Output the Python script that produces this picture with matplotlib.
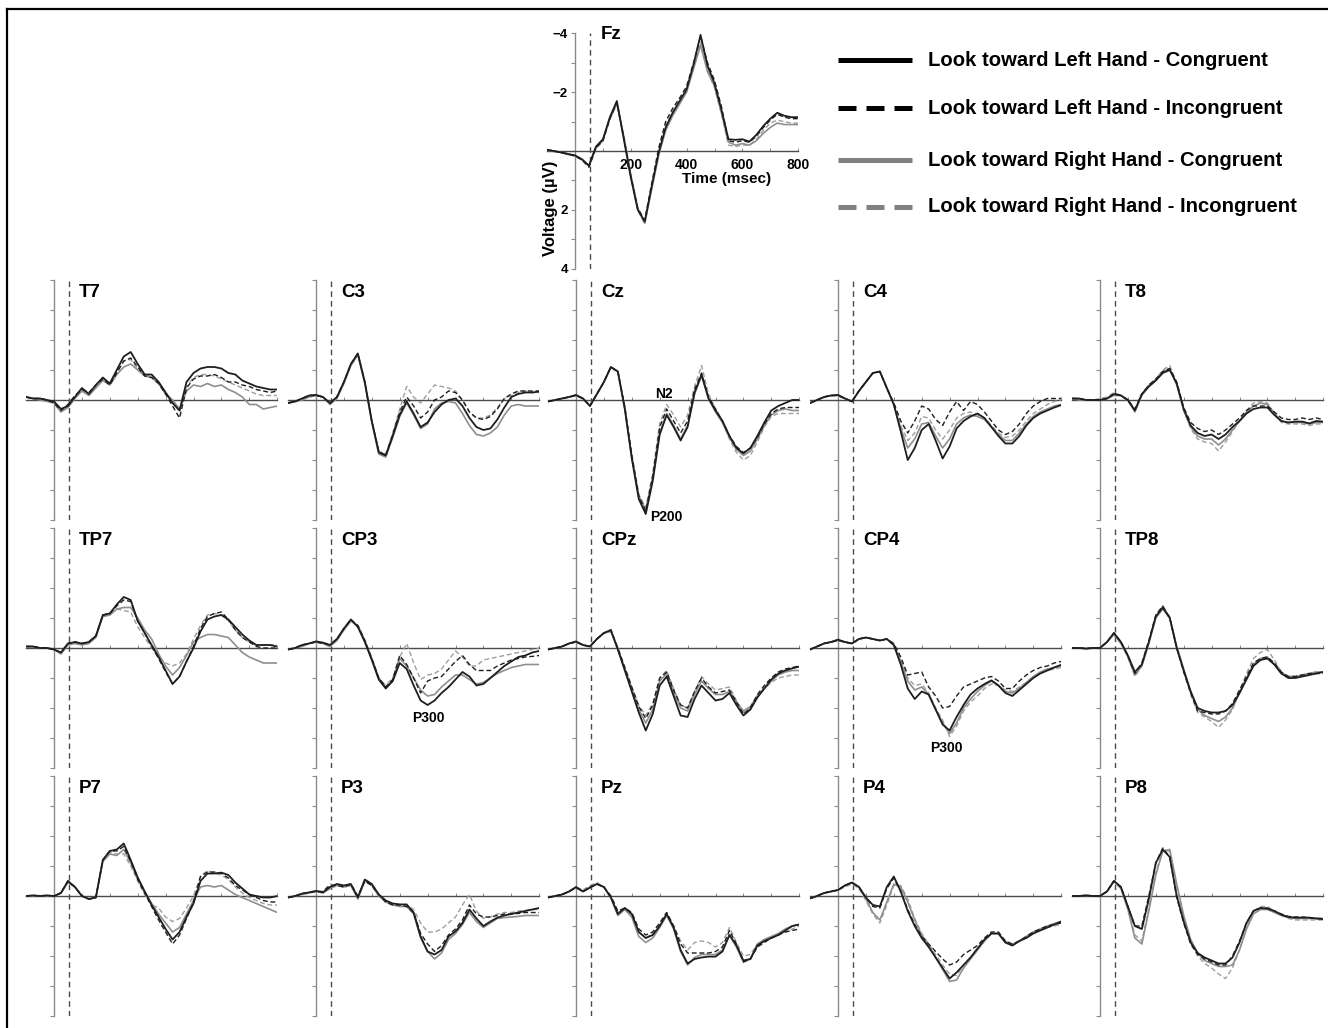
import matplotlib
matplotlib.use('Agg')
import matplotlib.pyplot as plt
from matplotlib.lines import Line2D

plt.rcParams['font.family'] = ['Liberation Sans', 'DejaVu Sans']
plt.rcParams['lines.solid_joinstyle'] = 'round'
plt.rcParams['lines.dash_joinstyle'] = 'round'

# ---------------- data (µV, sampled every 25 ms from -100 to 800 ms) ----------------
times = list(range(-100, 801, 25))

fz_lc = [-0.03, 0.0, 0.05, 0.1, 0.15, 0.28, 0.5, -0.15, -0.4, -1.15, -1.7, -0.4, 0.9, 2.0, 2.4, 1.2, 0.05, -0.8, -1.3, -1.7, -2.1, -2.95, -3.95, -2.9, -2.3, -1.4, -0.4, -0.38, -0.4, -0.32, -0.55, -0.85, -1.1, -1.3, -1.2, -1.15, -1.15]
fz_li = [-0.05, 0.0, 0.05, 0.1, 0.18, 0.3, 0.55, -0.1, -0.35, -1.1, -1.65, -0.45, 0.85, 1.95, 2.35, 1.1, -0.1, -1.0, -1.45, -1.8, -2.2, -3.0, -3.9, -3.0, -2.4, -1.5, -0.35, -0.3, -0.35, -0.3, -0.5, -0.8, -1.05, -1.25, -1.15, -1.1, -1.1]
fz_rc = [-0.02, 0.02, 0.05, 0.12, 0.15, 0.3, 0.5, -0.1, -0.35, -1.1, -1.6, -0.5, 0.8, 1.95, 2.45, 1.3, 0.15, -0.7, -1.2, -1.6, -2.0, -2.8, -3.6, -2.7, -2.2, -1.3, -0.3, -0.2, -0.25, -0.2, -0.35, -0.6, -0.8, -0.95, -0.9, -0.9, -0.9]
fz_ri = [-0.05, 0.0, 0.05, 0.1, 0.15, 0.3, 0.55, -0.1, -0.35, -1.1, -1.65, -0.45, 0.85, 2.0, 2.5, 1.25, 0.0, -0.85, -1.35, -1.7, -2.05, -2.85, -3.7, -2.75, -2.15, -1.25, -0.2, -0.15, -0.2, -0.2, -0.4, -0.7, -0.95, -1.05, -1.0, -0.95, -0.95]

t7_lc = [-0.1, -0.05, -0.05, 0.0, 0.05, 0.3, 0.2, -0.1, -0.4, -0.2, -0.5, -0.75, -0.55, -1.0, -1.45, -1.6, -1.2, -0.85, -0.85, -0.6, -0.25, 0.1, 0.35, -0.6, -0.9, -1.05, -1.1, -1.1, -1.05, -0.9, -0.85, -0.65, -0.55, -0.45, -0.4, -0.35, -0.35]
t7_li = [-0.1, -0.05, -0.05, 0.0, 0.1, 0.35, 0.15, -0.15, -0.35, -0.25, -0.5, -0.7, -0.5, -0.9, -1.3, -1.4, -1.1, -0.8, -0.75, -0.55, -0.2, 0.2, 0.6, -0.4, -0.7, -0.8, -0.8, -0.85, -0.75, -0.6, -0.6, -0.5, -0.45, -0.35, -0.3, -0.25, -0.3]
t7_rc = [-0.1, -0.05, 0.0, 0.05, 0.1, 0.4, 0.25, -0.05, -0.3, -0.15, -0.4, -0.65, -0.5, -0.85, -1.1, -1.2, -1.0, -0.8, -0.75, -0.55, -0.2, 0.0, 0.3, -0.3, -0.5, -0.45, -0.55, -0.45, -0.5, -0.35, -0.25, -0.1, 0.15, 0.15, 0.3, 0.25, 0.2]
t7_ri = [-0.1, -0.05, -0.05, 0.0, 0.1, 0.35, 0.2, -0.1, -0.35, -0.2, -0.45, -0.7, -0.55, -0.95, -1.3, -1.35, -1.05, -0.85, -0.8, -0.6, -0.25, 0.05, 0.4, -0.45, -0.75, -0.85, -0.85, -0.8, -0.7, -0.6, -0.5, -0.4, -0.3, -0.2, -0.15, -0.15, -0.15]

c3_lc = [0.1, 0.05, -0.05, -0.15, -0.17, -0.1, 0.1, -0.1, -0.6, -1.2, -1.55, -0.6, 0.7, 1.75, 1.85, 1.2, 0.5, 0.05, 0.45, 0.9, 0.75, 0.4, 0.15, 0.0, -0.05, 0.2, 0.6, 0.9, 1.0, 0.95, 0.65, 0.25, -0.1, -0.2, -0.25, -0.25, -0.28]
c3_li = [0.1, 0.05, -0.05, -0.15, -0.15, -0.1, 0.12, -0.1, -0.6, -1.2, -1.55, -0.6, 0.7, 1.7, 1.85, 1.15, 0.4, -0.1, 0.2, 0.6, 0.4, 0.0, -0.1, -0.3, -0.25, 0.0, 0.4, 0.6, 0.65, 0.55, 0.3, -0.05, -0.2, -0.3, -0.3, -0.3, -0.3]
c3_rc = [0.1, 0.05, 0.0, -0.1, -0.15, -0.1, 0.15, -0.05, -0.55, -1.15, -1.5, -0.55, 0.75, 1.8, 1.9, 1.25, 0.55, 0.1, 0.5, 0.95, 0.8, 0.3, 0.1, 0.05, 0.1, 0.45, 0.85, 1.15, 1.2, 1.1, 0.9, 0.5, 0.2, 0.15, 0.2, 0.2, 0.2]
c3_ri = [0.1, 0.05, -0.05, -0.1, -0.15, -0.1, 0.12, -0.1, -0.6, -1.15, -1.5, -0.55, 0.7, 1.7, 1.8, 1.1, 0.3, -0.45, -0.1, 0.1, -0.2, -0.5, -0.45, -0.4, -0.3, 0.0, 0.4, 0.6, 0.6, 0.5, 0.25, -0.05, -0.15, -0.25, -0.3, -0.25, -0.25]

cz_lc = [0.05, 0.0, -0.05, -0.1, -0.17, -0.05, 0.2, -0.2, -0.6, -1.1, -0.95, 0.3, 1.95, 3.3, 3.8, 2.7, 1.15, 0.5, 0.9, 1.35, 0.9, -0.25, -0.85, -0.05, 0.35, 0.7, 1.2, 1.6, 1.78, 1.6, 1.2, 0.75, 0.35, 0.2, 0.1, 0.0, 0.0]
cz_li = [0.05, 0.0, -0.05, -0.1, -0.15, -0.05, 0.2, -0.2, -0.6, -1.1, -0.95, 0.25, 1.85, 3.2, 3.7, 2.55, 0.9, 0.3, 0.7, 1.1, 0.7, -0.35, -0.9, -0.1, 0.3, 0.7, 1.2, 1.55, 1.75, 1.6, 1.25, 0.8, 0.45, 0.3, 0.25, 0.25, 0.25]
cz_rc = [0.05, 0.0, -0.05, -0.1, -0.15, -0.05, 0.18, -0.2, -0.6, -1.1, -0.95, 0.3, 1.9, 3.2, 3.65, 2.6, 1.1, 0.45, 0.85, 1.3, 0.85, -0.2, -0.8, -0.05, 0.4, 0.75, 1.25, 1.65, 1.85, 1.7, 1.3, 0.85, 0.5, 0.35, 0.3, 0.35, 0.35]
cz_ri = [0.05, 0.0, -0.05, -0.1, -0.15, -0.05, 0.2, -0.2, -0.6, -1.1, -0.9, 0.2, 1.8, 3.15, 3.6, 2.45, 0.8, 0.15, 0.5, 0.9, 0.5, -0.45, -1.15, -0.2, 0.3, 0.75, 1.3, 1.75, 2.0, 1.85, 1.4, 0.9, 0.55, 0.45, 0.45, 0.45, 0.45]

c4_lc = [0.1, 0.0, -0.1, -0.15, -0.17, -0.05, 0.05, -0.3, -0.6, -0.9, -0.95, -0.4, 0.15, 1.05, 2.0, 1.6, 1.0, 0.8, 1.35, 1.95, 1.55, 0.95, 0.7, 0.55, 0.45, 0.6, 0.9, 1.2, 1.45, 1.45, 1.2, 0.85, 0.6, 0.45, 0.35, 0.25, 0.17]
c4_li = [0.1, 0.0, -0.1, -0.15, -0.15, -0.05, 0.05, -0.3, -0.6, -0.9, -0.95, -0.4, 0.1, 0.7, 1.1, 0.7, 0.2, 0.3, 0.65, 0.85, 0.4, 0.05, 0.35, 0.05, 0.15, 0.4, 0.7, 1.0, 1.15, 1.05, 0.8, 0.45, 0.2, 0.05, -0.05, -0.05, -0.05]
c4_rc = [0.1, 0.0, -0.1, -0.15, -0.15, -0.05, 0.05, -0.3, -0.6, -0.9, -0.95, -0.4, 0.15, 0.95, 1.6, 1.3, 0.8, 0.75, 1.2, 1.6, 1.3, 0.8, 0.6, 0.5, 0.55, 0.65, 0.9, 1.15, 1.35, 1.35, 1.1, 0.8, 0.55, 0.4, 0.3, 0.2, 0.15]
c4_ri = [0.1, 0.0, -0.1, -0.15, -0.15, -0.05, 0.05, -0.3, -0.6, -0.9, -0.95, -0.4, 0.1, 0.85, 1.35, 1.1, 0.55, 0.6, 1.0, 1.3, 1.0, 0.6, 0.45, 0.4, 0.5, 0.6, 0.85, 1.1, 1.25, 1.2, 1.0, 0.7, 0.45, 0.3, 0.15, 0.05, 0.0]

t8_lc = [-0.05, -0.05, 0.0, 0.0, 0.0, -0.05, -0.2, -0.15, 0.0, 0.35, -0.2, -0.45, -0.65, -0.9, -1.0, -0.55, 0.3, 0.85, 1.1, 1.2, 1.15, 1.3, 1.15, 0.9, 0.7, 0.45, 0.3, 0.25, 0.25, 0.5, 0.7, 0.75, 0.72, 0.72, 0.78, 0.7, 0.72]
t8_li = [-0.05, -0.05, 0.0, 0.0, 0.0, -0.05, -0.2, -0.15, 0.0, 0.3, -0.2, -0.5, -0.7, -0.95, -1.05, -0.6, 0.25, 0.75, 0.95, 1.05, 1.0, 1.15, 1.0, 0.8, 0.6, 0.35, 0.2, 0.2, 0.2, 0.4, 0.6, 0.65, 0.65, 0.6, 0.65, 0.6, 0.65]
t8_rc = [-0.05, 0.0, 0.0, 0.0, 0.0, -0.05, -0.15, -0.15, 0.0, 0.4, -0.15, -0.45, -0.65, -0.95, -1.05, -0.5, 0.35, 0.9, 1.2, 1.3, 1.3, 1.5, 1.3, 1.0, 0.7, 0.4, 0.2, 0.1, 0.15, 0.45, 0.7, 0.75, 0.75, 0.75, 0.8, 0.75, 0.75]
t8_ri = [-0.05, -0.05, 0.0, 0.0, -0.05, -0.1, -0.25, -0.15, 0.05, 0.35, -0.2, -0.5, -0.7, -1.0, -1.15, -0.55, 0.35, 0.95, 1.3, 1.4, 1.45, 1.7, 1.4, 1.05, 0.7, 0.35, 0.1, 0.05, 0.1, 0.45, 0.75, 0.8, 0.8, 0.8, 0.85, 0.8, 0.8]

tp7_lc = [-0.05, -0.05, 0.0, 0.0, 0.05, 0.15, -0.15, -0.2, -0.15, -0.2, -0.4, -1.1, -1.15, -1.45, -1.7, -1.6, -0.9, -0.5, -0.1, 0.3, 0.75, 1.2, 0.95, 0.45, 0.0, -0.55, -0.95, -1.05, -1.1, -0.95, -0.7, -0.45, -0.25, -0.1, -0.1, -0.1, -0.05]
tp7_li = [-0.05, -0.05, 0.0, 0.0, 0.05, 0.15, -0.15, -0.2, -0.15, -0.2, -0.4, -1.1, -1.15, -1.4, -1.6, -1.55, -0.9, -0.5, -0.05, 0.35, 0.8, 1.2, 0.95, 0.45, -0.05, -0.65, -1.05, -1.15, -1.2, -0.95, -0.6, -0.35, -0.2, -0.05, 0.0, 0.0, 0.0]
tp7_rc = [-0.05, -0.05, 0.0, 0.0, 0.05, 0.2, -0.1, -0.15, -0.1, -0.15, -0.35, -1.05, -1.1, -1.3, -1.35, -1.35, -1.0, -0.6, -0.3, 0.2, 0.6, 0.9, 0.65, 0.25, -0.2, -0.35, -0.45, -0.45, -0.4, -0.35, -0.1, 0.15, 0.3, 0.4, 0.5, 0.5, 0.5]
tp7_ri = [-0.05, -0.05, 0.0, 0.0, 0.05, 0.15, -0.15, -0.2, -0.15, -0.2, -0.4, -1.05, -1.1, -1.3, -1.25, -1.2, -0.7, -0.35, 0.0, 0.3, 0.5, 0.6, 0.5, 0.2, -0.3, -0.75, -1.1, -1.15, -1.1, -0.9, -0.6, -0.35, -0.2, -0.1, -0.1, -0.1, -0.1]

cp3_lc = [0.05, 0.0, -0.1, -0.15, -0.22, -0.18, -0.1, -0.3, -0.65, -0.95, -0.7, -0.2, 0.4, 1.05, 1.35, 1.1, 0.5, 0.7, 1.25, 1.75, 1.9, 1.75, 1.5, 1.3, 1.05, 0.8, 0.95, 1.25, 1.2, 1.0, 0.8, 0.6, 0.45, 0.3, 0.25, 0.15, 0.1]
cp3_li = [0.05, 0.0, -0.1, -0.15, -0.2, -0.15, -0.1, -0.3, -0.65, -0.95, -0.75, -0.25, 0.35, 1.0, 1.3, 1.05, 0.25, 0.55, 1.0, 1.5, 1.1, 1.0, 0.95, 0.7, 0.45, 0.25, 0.55, 0.75, 0.75, 0.75, 0.6, 0.5, 0.4, 0.35, 0.3, 0.28, 0.25]
cp3_rc = [0.05, 0.0, -0.05, -0.15, -0.2, -0.15, -0.05, -0.25, -0.6, -0.9, -0.75, -0.25, 0.35, 1.0, 1.3, 1.1, 0.35, 0.6, 1.0, 1.4, 1.6, 1.55, 1.3, 1.1, 0.9, 0.9, 1.05, 1.2, 1.15, 1.0, 0.85, 0.75, 0.65, 0.6, 0.55, 0.55, 0.55]
cp3_ri = [0.05, 0.0, -0.1, -0.15, -0.2, -0.15, -0.1, -0.3, -0.6, -0.9, -0.75, -0.25, 0.35, 1.0, 1.25, 1.0, 0.3, -0.15, 0.5, 1.05, 0.9, 0.85, 0.7, 0.4, 0.1, 0.3, 0.6, 0.6, 0.4, 0.35, 0.3, 0.25, 0.2, 0.15, 0.1, 0.05, 0.0]

cpz_lc = [0.05, 0.0, -0.05, -0.15, -0.22, -0.1, -0.05, -0.3, -0.5, -0.6, 0.05, 0.75, 1.45, 2.15, 2.75, 2.2, 1.25, 0.95, 1.6, 2.25, 2.3, 1.7, 1.25, 1.5, 1.75, 1.7, 1.5, 1.9, 2.25, 2.05, 1.65, 1.35, 1.05, 0.85, 0.75, 0.68, 0.62]
cpz_li = [0.05, 0.0, -0.05, -0.15, -0.2, -0.1, -0.05, -0.3, -0.5, -0.6, 0.0, 0.65, 1.3, 1.95, 2.35, 1.9, 1.0, 0.8, 1.4, 1.9, 2.0, 1.45, 1.0, 1.3, 1.5, 1.45, 1.4, 1.8, 2.2, 2.0, 1.55, 1.25, 1.0, 0.8, 0.7, 0.65, 0.6]
cpz_rc = [0.05, 0.0, -0.05, -0.15, -0.2, -0.1, -0.05, -0.3, -0.5, -0.55, 0.05, 0.7, 1.4, 2.05, 2.5, 2.05, 1.1, 0.85, 1.5, 2.0, 2.1, 1.55, 1.1, 1.35, 1.55, 1.55, 1.45, 1.8, 2.1, 1.95, 1.6, 1.35, 1.1, 0.9, 0.8, 0.75, 0.75]
cpz_ri = [0.05, 0.0, -0.05, -0.15, -0.2, -0.1, -0.05, -0.3, -0.5, -0.55, 0.0, 0.65, 1.3, 1.9, 2.25, 1.85, 1.0, 0.75, 1.35, 1.9, 2.0, 1.45, 0.95, 1.2, 1.4, 1.35, 1.3, 1.75, 2.15, 2.0, 1.6, 1.35, 1.15, 1.0, 0.95, 0.9, 0.9]

cp4_lc = [0.05, -0.05, -0.15, -0.2, -0.28, -0.2, -0.15, -0.3, -0.35, -0.3, -0.25, -0.3, -0.1, 0.55, 1.35, 1.7, 1.45, 1.55, 2.05, 2.55, 2.75, 2.3, 1.9, 1.55, 1.35, 1.2, 1.08, 1.25, 1.5, 1.6, 1.4, 1.2, 1.0, 0.85, 0.75, 0.65, 0.56]
cp4_li = [0.05, -0.05, -0.15, -0.2, -0.25, -0.2, -0.15, -0.3, -0.35, -0.3, -0.25, -0.3, -0.15, 0.3, 0.9, 0.85, 0.8, 1.3, 1.6, 2.0, 1.95, 1.6, 1.3, 1.2, 1.1, 1.0, 0.95, 1.1, 1.35, 1.35, 1.1, 0.9, 0.75, 0.65, 0.6, 0.5, 0.45]
cp4_rc = [0.05, -0.05, -0.15, -0.2, -0.25, -0.2, -0.15, -0.3, -0.35, -0.3, -0.25, -0.3, -0.1, 0.45, 1.1, 1.4, 1.3, 1.55, 2.05, 2.5, 2.85, 2.5, 2.0, 1.7, 1.45, 1.25, 1.1, 1.25, 1.45, 1.5, 1.35, 1.15, 0.95, 0.8, 0.7, 0.65, 0.6]
cp4_ri = [0.05, -0.05, -0.15, -0.2, -0.25, -0.2, -0.15, -0.3, -0.35, -0.3, -0.25, -0.3, -0.1, 0.4, 1.0, 1.25, 1.2, 1.5, 2.0, 2.4, 2.95, 2.6, 2.1, 1.8, 1.6, 1.35, 1.2, 1.25, 1.4, 1.45, 1.3, 1.15, 0.95, 0.85, 0.75, 0.7, 0.65]

tp8_lc = [0.0, 0.0, 0.02, 0.0, 0.0, -0.2, -0.5, -0.2, 0.25, 0.8, 0.55, -0.2, -1.05, -1.35, -1.0, 0.0, 0.75, 1.45, 2.0, 2.1, 2.15, 2.15, 2.1, 1.9, 1.5, 1.05, 0.6, 0.4, 0.35, 0.55, 0.85, 1.0, 1.0, 0.95, 0.9, 0.85, 0.8]
tp8_li = [0.0, 0.0, 0.02, 0.0, 0.0, -0.2, -0.5, -0.2, 0.25, 0.85, 0.5, -0.25, -1.1, -1.4, -1.0, 0.0, 0.8, 1.5, 2.1, 2.15, 2.2, 2.2, 2.1, 1.85, 1.4, 0.95, 0.5, 0.35, 0.3, 0.5, 0.8, 0.95, 0.95, 0.9, 0.85, 0.85, 0.85]
tp8_rc = [0.0, 0.0, 0.02, 0.0, 0.0, -0.2, -0.45, -0.15, 0.3, 0.9, 0.6, -0.15, -1.0, -1.3, -1.0, -0.05, 0.7, 1.45, 2.05, 2.25, 2.35, 2.45, 2.3, 2.0, 1.5, 1.0, 0.55, 0.35, 0.3, 0.55, 0.85, 0.95, 0.95, 0.9, 0.85, 0.8, 0.8]
tp8_ri = [0.0, 0.0, 0.02, 0.0, 0.0, -0.2, -0.5, -0.2, 0.3, 0.95, 0.6, -0.2, -1.05, -1.4, -1.05, -0.05, 0.75, 1.55, 2.15, 2.3, 2.45, 2.65, 2.4, 2.05, 1.45, 0.85, 0.35, 0.15, 0.05, 0.4, 0.8, 0.95, 0.95, 0.9, 0.85, 0.8, 0.8]

p7_lc = [0.0, -0.02, 0.0, -0.02, 0.0, -0.1, -0.5, -0.3, 0.0, 0.1, 0.05, -1.2, -1.5, -1.55, -1.75, -1.2, -0.62, -0.15, 0.3, 0.7, 1.1, 1.45, 1.2, 0.7, 0.25, -0.5, -0.75, -0.75, -0.78, -0.7, -0.45, -0.25, -0.05, 0.0, 0.05, 0.05, 0.0]
p7_li = [0.0, -0.02, 0.0, -0.02, 0.0, -0.1, -0.5, -0.3, 0.0, 0.1, 0.05, -1.2, -1.5, -1.5, -1.65, -1.15, -0.55, -0.1, 0.35, 0.8, 1.2, 1.6, 1.3, 0.75, 0.2, -0.65, -0.8, -0.8, -0.75, -0.6, -0.35, -0.2, -0.05, 0.05, 0.15, 0.2, 0.2]
p7_rc = [0.0, 0.0, 0.0, 0.0, 0.0, -0.1, -0.45, -0.3, 0.0, 0.1, 0.05, -1.15, -1.4, -1.35, -1.55, -1.1, -0.6, -0.15, 0.25, 0.6, 0.9, 1.2, 1.05, 0.6, 0.15, -0.3, -0.35, -0.3, -0.35, -0.2, -0.05, 0.05, 0.15, 0.25, 0.35, 0.45, 0.55]
p7_ri = [0.0, -0.02, 0.0, -0.02, 0.0, -0.1, -0.5, -0.3, 0.0, 0.1, 0.05, -1.15, -1.45, -1.4, -1.4, -1.0, -0.5, -0.05, 0.3, 0.4, 0.7, 0.85, 0.75, 0.4, 0.0, -0.65, -0.85, -0.75, -0.7, -0.55, -0.3, -0.1, 0.05, 0.15, 0.25, 0.3, 0.3]

p3_lc = [0.05, 0.0, -0.08, -0.12, -0.17, -0.12, -0.3, -0.4, -0.35, -0.4, 0.05, -0.55, -0.4, -0.05, 0.15, 0.25, 0.28, 0.28, 0.55, 1.35, 1.85, 1.95, 1.8, 1.35, 1.18, 0.9, 0.45, 0.75, 1.0, 0.85, 0.72, 0.65, 0.6, 0.55, 0.5, 0.45, 0.4]
p3_li = [0.05, 0.0, -0.08, -0.12, -0.15, -0.15, -0.35, -0.35, -0.3, -0.4, 0.0, -0.5, -0.35, -0.05, 0.2, 0.3, 0.3, 0.35, 0.55, 1.25, 1.6, 1.85, 1.65, 1.3, 1.1, 0.8, 0.3, 0.6, 0.7, 0.7, 0.65, 0.6, 0.6, 0.58, 0.55, 0.55, 0.55]
p3_rc = [0.05, 0.0, -0.05, -0.1, -0.15, -0.1, -0.25, -0.35, -0.3, -0.35, 0.1, -0.5, -0.35, 0.0, 0.2, 0.3, 0.35, 0.35, 0.6, 1.4, 1.85, 2.1, 1.9, 1.45, 1.25, 0.95, 0.55, 0.85, 1.05, 0.9, 0.75, 0.72, 0.7, 0.68, 0.65, 0.65, 0.65]
p3_ri = [0.05, 0.0, -0.08, -0.12, -0.15, -0.15, -0.4, -0.35, -0.3, -0.35, 0.0, -0.5, -0.35, 0.0, 0.2, 0.3, 0.3, 0.3, 0.45, 0.9, 1.2, 1.2, 1.1, 0.9, 0.7, 0.3, -0.05, 0.5, 0.75, 0.7, 0.6, 0.55, 0.55, 0.5, 0.48, 0.45, 0.45]

pz_lc = [0.05, 0.0, -0.05, -0.15, -0.3, -0.15, -0.28, -0.4, -0.3, 0.05, 0.6, 0.4, 0.6, 1.2, 1.4, 1.3, 1.0, 0.6, 1.05, 1.8, 2.25, 2.1, 2.05, 2.02, 2.02, 1.85, 1.3, 1.65, 2.15, 2.1, 1.65, 1.5, 1.4, 1.3, 1.15, 1.0, 0.95]
pz_li = [0.05, 0.0, -0.05, -0.15, -0.28, -0.15, -0.3, -0.4, -0.3, 0.0, 0.5, 0.4, 0.55, 1.1, 1.3, 1.2, 0.9, 0.55, 1.0, 1.6, 1.9, 1.9, 1.9, 1.9, 1.85, 1.7, 1.15, 1.6, 2.2, 2.1, 1.7, 1.55, 1.4, 1.3, 1.2, 1.15, 1.1]
pz_rc = [0.05, 0.0, -0.05, -0.15, -0.28, -0.15, -0.28, -0.4, -0.3, 0.05, 0.65, 0.45, 0.7, 1.35, 1.55, 1.4, 1.05, 0.65, 1.1, 1.85, 2.3, 2.05, 1.95, 1.95, 1.95, 1.8, 1.3, 1.7, 2.2, 2.1, 1.6, 1.45, 1.35, 1.25, 1.1, 1.0, 0.95]
pz_ri = [0.05, 0.0, -0.05, -0.15, -0.3, -0.2, -0.35, -0.45, -0.3, 0.0, 0.55, 0.4, 0.6, 1.2, 1.4, 1.25, 0.95, 0.55, 1.0, 1.5, 1.8, 1.55, 1.5, 1.55, 1.7, 1.55, 1.05, 1.55, 2.0, 1.95, 1.6, 1.5, 1.4, 1.3, 1.2, 1.1, 1.0]

p4_lc = [0.08, 0.0, -0.1, -0.15, -0.2, -0.35, -0.45, -0.3, 0.05, 0.3, 0.35, -0.3, -0.65, -0.15, 0.5, 1.0, 1.4, 1.7, 2.05, 2.4, 2.75, 2.55, 2.3, 2.05, 1.75, 1.45, 1.25, 1.25, 1.55, 1.65, 1.5, 1.4, 1.25, 1.15, 1.05, 0.95, 0.85]
p4_li = [0.08, 0.0, -0.1, -0.15, -0.2, -0.35, -0.45, -0.3, 0.05, 0.35, 0.4, -0.25, -0.6, -0.15, 0.45, 0.95, 1.35, 1.6, 1.85, 2.1, 2.3, 2.2, 1.95, 1.8, 1.65, 1.4, 1.2, 1.2, 1.5, 1.6, 1.5, 1.35, 1.2, 1.1, 1.0, 0.95, 0.9]
p4_rc = [0.08, 0.0, -0.1, -0.15, -0.2, -0.35, -0.45, -0.3, 0.1, 0.55, 0.8, 0.2, -0.4, -0.3, 0.2, 0.8, 1.3, 1.65, 2.05, 2.45, 2.85, 2.8, 2.4, 2.1, 1.8, 1.5, 1.25, 1.25, 1.55, 1.65, 1.5, 1.35, 1.2, 1.1, 1.0, 0.92, 0.85]
p4_ri = [0.08, 0.0, -0.1, -0.15, -0.2, -0.3, -0.4, -0.25, 0.15, 0.6, 0.9, 0.3, -0.35, -0.35, 0.1, 0.75, 1.25, 1.6, 1.95, 2.3, 2.6, 2.65, 2.3, 2.05, 1.8, 1.5, 1.25, 1.25, 1.5, 1.6, 1.5, 1.35, 1.2, 1.1, 1.05, 1.0, 0.95]

p8_lc = [0.0, 0.0, -0.02, 0.0, 0.0, -0.15, -0.5, -0.3, 0.35, 1.0, 1.1, 0.1, -1.1, -1.55, -1.3, 0.0, 0.85, 1.55, 1.9, 2.05, 2.15, 2.25, 2.25, 2.05, 1.55, 0.9, 0.5, 0.4, 0.42, 0.5, 0.62, 0.7, 0.72, 0.72, 0.72, 0.75, 0.77]
p8_li = [0.0, 0.0, -0.02, 0.0, 0.0, -0.15, -0.5, -0.3, 0.35, 1.0, 1.0, 0.0, -1.1, -1.6, -1.3, 0.05, 0.9, 1.6, 1.95, 2.1, 2.2, 2.3, 2.3, 2.0, 1.5, 0.9, 0.5, 0.4, 0.4, 0.5, 0.6, 0.68, 0.7, 0.7, 0.72, 0.75, 0.75]
p8_rc = [0.0, 0.0, -0.02, 0.0, 0.0, -0.15, -0.5, -0.25, 0.45, 1.4, 1.6, 0.5, -0.7, -1.5, -1.55, -0.4, 0.65, 1.45, 1.9, 2.15, 2.25, 2.35, 2.35, 2.3, 1.8, 1.1, 0.6, 0.45, 0.45, 0.55, 0.65, 0.72, 0.75, 0.75, 0.75, 0.75, 0.75]
p8_ri = [0.0, 0.0, -0.02, 0.0, 0.0, -0.15, -0.5, -0.25, 0.4, 1.3, 1.5, 0.4, -0.8, -1.5, -1.5, -0.3, 0.7, 1.5, 2.0, 2.25, 2.4, 2.6, 2.75, 2.4, 1.8, 1.05, 0.5, 0.35, 0.35, 0.5, 0.65, 0.75, 0.8, 0.8, 0.8, 0.8, 0.8]

condition_labels = ['Look toward Left Hand - Congruent',
                    'Look toward Left Hand - Incongruent',
                    'Look toward Right Hand - Congruent',
                    'Look toward Right Hand - Incongruent']

# grid of electrodes: (name, row, col, traces)
panels = [
    ('T7', 0, 0, (t7_lc, t7_li, t7_rc, t7_ri)),
    ('C3', 0, 1, (c3_lc, c3_li, c3_rc, c3_ri)),
    ('Cz', 0, 2, (cz_lc, cz_li, cz_rc, cz_ri)),
    ('C4', 0, 3, (c4_lc, c4_li, c4_rc, c4_ri)),
    ('T8', 0, 4, (t8_lc, t8_li, t8_rc, t8_ri)),
    ('TP7', 1, 0, (tp7_lc, tp7_li, tp7_rc, tp7_ri)),
    ('CP3', 1, 1, (cp3_lc, cp3_li, cp3_rc, cp3_ri)),
    ('CPz', 1, 2, (cpz_lc, cpz_li, cpz_rc, cpz_ri)),
    ('CP4', 1, 3, (cp4_lc, cp4_li, cp4_rc, cp4_ri)),
    ('TP8', 1, 4, (tp8_lc, tp8_li, tp8_rc, tp8_ri)),
    ('P7', 2, 0, (p7_lc, p7_li, p7_rc, p7_ri)),
    ('P3', 2, 1, (p3_lc, p3_li, p3_rc, p3_ri)),
    ('Pz', 2, 2, (pz_lc, pz_li, pz_rc, pz_ri)),
    ('P4', 2, 3, (p4_lc, p4_li, p4_rc, p4_ri)),
    ('P8', 2, 4, (p8_lc, p8_li, p8_rc, p8_ri)),
]

# ---------------- layout ----------------
W, H, DPI = 1328, 1028, 100
fig = plt.figure(figsize=(W / DPI, H / DPI), dpi=DPI)
fig.patch.set_facecolor('white')

PX_MS = 0.279
COL_X = [54, 316, 576, 838, 1100]
ROW_Y = [400, 648, 896]
ONSET = 55

styles = [
    dict(color='#1e1e1e', lw=1.3, ls='-'),
    dict(color='#1e1e1e', lw=1.0, ls=(0, (3.5, 2))),
    dict(color='#8f8f8f', lw=1.2, ls='-'),
    dict(color='#9e9e9e', lw=1.0, ls=(0, (3.5, 2))),
]


def make_axes(axis_x, zero_y, px_uv=30.0):
    left = axis_x - 100 * PX_MS
    right = axis_x + 800 * PX_MS
    top = zero_y - 4 * px_uv
    bottom = zero_y + 4 * px_uv
    ax = fig.add_axes([left / W, 1 - bottom / H, (right - left) / W, (bottom - top) / H])
    ax.set_xlim(-100, 800)
    ax.set_ylim(4, -4)
    ax.patch.set_alpha(0)
    for s in ('top', 'right'):
        ax.spines[s].set_visible(False)
    ax.spines['left'].set_position(('data', 0))
    ax.spines['bottom'].set_position(('data', 0))
    ax.spines['left'].set_color('#8a8a8a')
    ax.spines['left'].set_linewidth(1.0)
    ax.spines['bottom'].set_color('#4a4a4a')
    ax.spines['bottom'].set_linewidth(1.0)
    ax.set_yticks(range(-4, 5))
    ax.set_xticks(range(100, 801, 100))
    ax.tick_params(axis='y', direction='out', length=3, width=0.8, color='#8a8a8a',
                   labelleft=False)
    ax.tick_params(axis='x', direction='in', length=2, width=0.7, color='#8a8a8a',
                   labelbottom=False)
    ax.axvline(ONSET, color='#4a4a4a', lw=1.0, ls=(0, (4, 3)))
    return ax


def draw_traces(ax, traces):
    order = [3, 2, 1, 0]
    for k in order:
        ax.plot(times, traces[k], **styles[k], zorder=3 + (3 - k))


for name, r, c, traces in panels:
    ax = make_axes(COL_X[c], ROW_Y[r])
    draw_traces(ax, traces)
    fig.text((COL_X[c] + 25) / W, 1 - (ROW_Y[r] - 116) / H, name,
             fontsize=13.5, fontweight='bold', ha='left', va='top')

# Fz panel with axes labels
axf = make_axes(575, 151, px_uv=29.4)
draw_traces(axf, (fz_lc, fz_li, fz_rc, fz_ri))
axf.set_yticklabels(['\u22124', '', '\u22122', '', '', '', '2', '', '4'])
axf.tick_params(axis='y', labelleft=True, labelsize=9.5, labelcolor='black', pad=2)
axf.set_xticklabels(['', '200', '', '400', '', '600', '', '800'])
axf.tick_params(axis='x', labelbottom=True, labelsize=10, labelcolor='black', pad=5)
for lab in axf.get_xticklabels() + axf.get_yticklabels():
    lab.set_fontweight('bold')
fig.text(601 / W, 1 - 26 / H, 'Fz', fontsize=13.5, fontweight='bold', ha='left', va='top')
fig.text(727 / W, 1 - 179 / H, 'Time (msec)', fontsize=11, fontweight='bold',
         ha='center', va='center')
fig.text(550 / W, 1 - 208 / H, 'Voltage (\u00b5V)', fontsize=12, fontweight='bold',
         ha='center', va='center', rotation=90)

# component annotations
ann_kw = dict(fontsize=10, fontweight='bold', ha='center', va='center')
fig.text(664 / W, 1 - 394 / H, 'N2', **ann_kw)
fig.text(666 / W, 1 - 517 / H, 'P200', **ann_kw)
fig.text(428 / W, 1 - 718 / H, 'P300', **ann_kw)
fig.text(946 / W, 1 - 748 / H, 'P300', **ann_kw)

# legend
leg_y = [60, 108, 160, 207]
leg_styles = [
    dict(color='black', lw=3.6, ls='-'),
    dict(color='black', lw=3.6, ls=(0, (3.6, 2.0))),
    dict(color='#808080', lw=3.6, ls='-'),
    dict(color='#808080', lw=3.6, ls=(0, (3.6, 2.0))),
]
for y, st, lab in zip(leg_y, leg_styles, condition_labels):
    fig.add_artist(Line2D([838 / W, 912 / W], [1 - y / H, 1 - y / H],
                          transform=fig.transFigure, solid_capstyle='butt',
                          dash_capstyle='butt', **st))
    fig.text(928 / W, 1 - y / H, lab, fontsize=14.6, fontweight='bold',
             ha='left', va='center')

# outer frame (top and left edges)
fig.add_artist(Line2D([7 / W, 1], [1 - 9 / H, 1 - 9 / H], transform=fig.transFigure,
                      color='black', lw=1.6))
fig.add_artist(Line2D([7 / W, 7 / W], [0, 1 - 9 / H], transform=fig.transFigure,
                      color='black', lw=1.6))

fig.savefig('out.png', dpi=DPI, facecolor='white')
